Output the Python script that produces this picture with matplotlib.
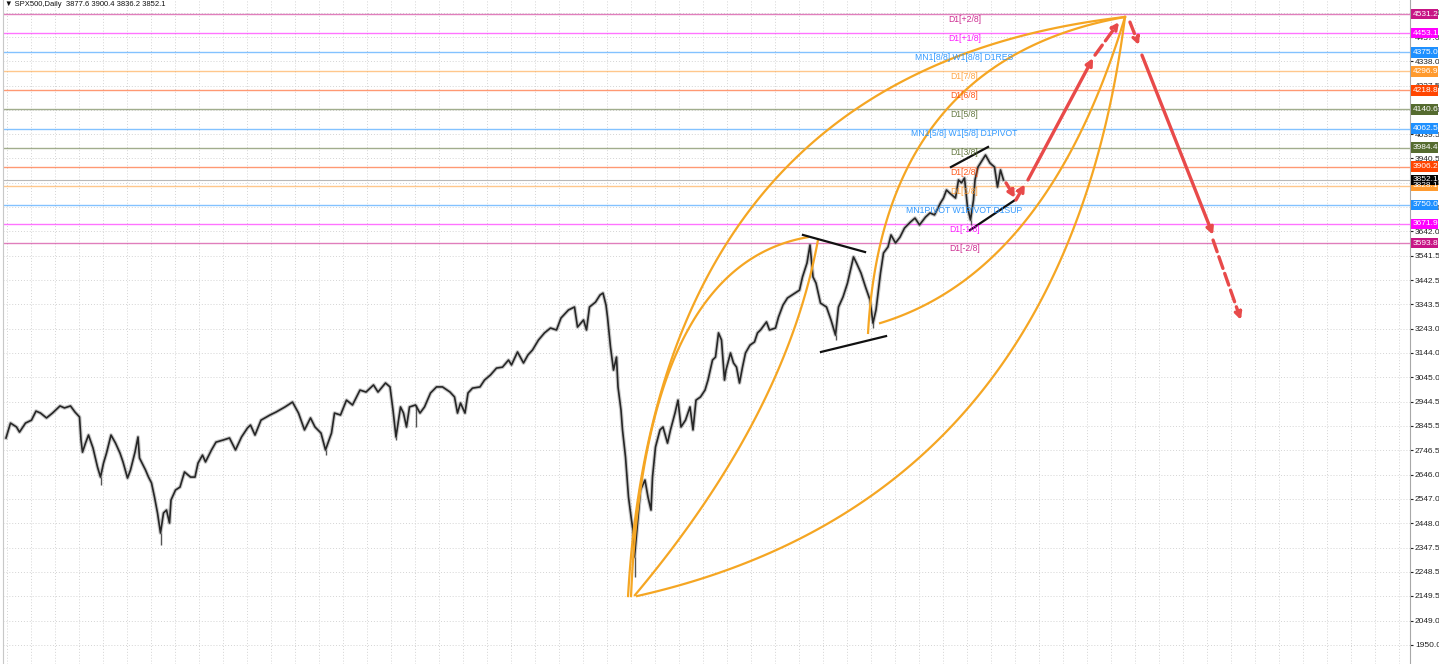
import matplotlib.pyplot as plt
import matplotlib.transforms as mtransforms
from matplotlib.patches import Rectangle
import numpy as np

plt.rcParams['font.family'] = ['Liberation Sans', 'DejaVu Sans']

# price path (bar number, close)
bar_day = [2, 5, 9, 11, 15, 19, 22, 25, 29, 33, 38, 41, 45, 48, 51, 52, 53, 55, 57, 60,
           63, 65, 67, 69, 72, 75, 78, 80, 83, 85, 88, 90, 91, 95, 97, 99, 101, 103, 105, 107,
           109, 111, 112, 115, 118, 121, 125, 128, 130, 133, 135, 139, 142, 147, 151, 155, 159, 163, 165, 168,
           172, 178, 182, 188, 193, 197, 201, 205, 208, 212, 215, 219, 221, 225, 229, 233, 238, 242, 247, 250,
           255, 258, 260, 262, 265, 267, 269, 271, 275, 278, 281, 285, 289, 293, 298, 301, 303, 305, 308, 310,
           313, 318, 321, 325, 329, 333, 337, 339, 343, 347, 350, 353, 357, 361, 365, 369, 372, 377, 381, 383,
           387, 389, 391, 395, 398, 400, 402, 403, 405, 407, 409, 410, 412, 413, 415, 417, 419, 420, 421, 423,
           425, 428, 430, 432, 433, 435, 438, 440, 443, 445, 448, 450, 452, 455, 458, 460, 462, 465, 468, 470,
           473, 475, 477, 479, 481, 482, 485, 487, 489, 491, 493, 495, 498, 501, 503, 505, 509, 511, 515, 517,
           520, 523, 528, 531, 533, 536, 538, 540, 542, 545, 549, 552, 555, 557, 560, 563, 567, 569, 572, 575,
           578, 580, 582, 585, 587, 590, 592, 595, 598, 601, 605, 608, 611, 615, 618, 621, 625, 627, 629, 631,
           635, 637, 639, 641, 643, 645, 647, 648, 650, 653, 655, 658, 661, 663, 665, 667]
bar_close = [2796, 2857, 2841, 2820, 2857, 2869, 2906, 2898, 2878, 2898, 2927, 2919, 2927, 2902, 2882, 2788, 2738, 2775, 2808, 2755,
             2677, 2636, 2693, 2734, 2808, 2775, 2734, 2698, 2632, 2665, 2738, 2800, 2714, 2665, 2636, 2612, 2554, 2489, 2407, 2489,
             2501, 2448, 2542, 2583, 2595, 2657, 2636, 2636, 2693, 2726, 2698, 2747, 2779, 2788, 2796, 2747, 2800, 2837, 2849, 2808,
             2869, 2890, 2902, 2923, 2943, 2898, 2829, 2878, 2841, 2816, 2747, 2816, 2898, 2890, 2951, 2931, 2992, 2984, 3013, 2984,
             3021, 3005, 2910, 2800, 2923, 2898, 2841, 2923, 2931, 2898, 2923, 2980, 3005, 3005, 2984, 2964, 2898, 2939, 2898, 2980,
             3000, 3005, 3033, 3054, 3082, 3086, 3115, 3095, 3148, 3103, 3136, 3156, 3197, 3226, 3246, 3238, 3287, 3320, 3332, 3250,
             3279, 3238, 3332, 3352, 3381, 3389, 3340, 3291, 3168, 3074, 3127, 3005, 2910, 2829, 2718, 2554, 2460, 2419, 2309, 2448,
             2583, 2624, 2554, 2501, 2636, 2759, 2829, 2841, 2775, 2829, 2898, 2951, 2841, 2869, 2923, 2829, 2951, 2964, 2992, 3033,
             3115, 3127, 3226, 3197, 3033, 3074, 3144, 3103, 3086, 3021, 3086, 3144, 3176, 3189, 3226, 3238, 3271, 3238, 3246, 3291,
             3340, 3369, 3389, 3401, 3455, 3512, 3586, 3455, 3430, 3348, 3332, 3279, 3217, 3332, 3373, 3430, 3537, 3512, 3471, 3414,
             3361, 3266, 3320, 3471, 3553, 3578, 3627, 3594, 3618, 3655, 3680, 3696, 3668, 3700, 3717, 3709, 3758, 3778, 3811, 3799,
             3778, 3852, 3840, 3860, 3741, 3688, 3770, 3852, 3905, 3934, 3954, 3921, 3905, 3823, 3893, 3852]

# a few long wicks
wick_day = [65, 105, 215, 262, 275, 421, 555, 580, 645]
wick_low = [2603, 2358, 2726, 2788, 2841, 2227, 3197, 3245, 3668]

# murrey math levels
level_values = [4531.2, 4453.1, 4375.0, 4296.9, 4218.8, 4140.6, 4062.5, 3984.4, 3906.2, 3828.1, 3750.0, 3671.9, 3593.8]
level_names = ["D1[+2/8]", "D1[+1/8]", "MN1[8/8] W1[8/8] D1RES", "D1[7/8]", "D1[6/8]", "D1[5/8]",
               "MN1[5/8] W1[5/8] D1PIVOT", "D1[3/8]", "D1[2/8]", "D1[1/8]", "MN1PIVOT W1PIVOT D1SUP",
               "D1[-1/8]", "D1[-2/8]"]
level_colors = ["#c71585", "#ff00ff", "#1e90ff", "#ff9a2e", "#ff4500", "#556b2f", "#1e90ff",
                "#556b2f", "#ff4500", "#ff9a2e", "#1e90ff", "#ff00ff", "#c71585"]
last_price = 3852.1

price_ticks = [1950.0, 2049.0, 2149.5, 2248.5, 2347.5, 2448.0, 2547.0, 2646.0, 2746.5, 2845.5, 2944.5,
               3045.0, 3144.0, 3243.0, 3343.5, 3442.5, 3541.5, 3642.0, 3741.0, 3840.0, 3940.5, 4039.5,
               4138.5, 4237.5, 4338.0, 4437.0, 4536.0]

# arcs: start, control, end (bar, price)
arcs = [
    [(416.7, 2149), (436.7, 4302), (748, 4519)],
    [(418.7, 2149), (428.0, 3504), (536.7, 3618)],
    [(421.3, 2153), (522.0, 2890), (543.3, 3606)],
    [(422.7, 2149), (706.7, 2542), (748, 4519)],
    [(576.7, 3226), (586.7, 4343), (748, 4519)],
    [(584.7, 3266), (696.7, 3475), (748, 4519)],
]

trend_lines = [
    [(533.3, 3627), (574.7, 3557)],
    [(545.3, 3148), (588.7, 3213)],
    [(632.0, 3905), (656.7, 3987)],
    [(644.7, 3647), (674.7, 3770)],
]

# forecast arrows: start, end, dashed?
arrows = [
    [(668.7, 3840), (674.7, 3778), True],
    [(675.3, 3770), (681.3, 3835), True],
    [(683.3, 3852), (726.7, 4351), False],
    [(728.0, 4363), (744.0, 4498), True],
    [(751.3, 4498), (757.3, 4404), True],
    [(759.3, 4363), (806.7, 3627), False],
    [(806.7, 3606), (825.3, 3279), True],
]

fig = plt.figure(figsize=(14.39, 6.64), dpi=100)
ax = fig.add_axes([3 / 1439, 0, 1407 / 1439, 1])
ax.set_xlim(0, 938)
ax.set_ylim(1871, 4588.5)

# grid
ax.set_yticks(price_ticks)
ax.set_yticklabels(["%.1f" % v for v in price_ticks])
ax.set_xticks(np.arange(2.7, 938, 16))
ax.set_xticklabels([])
ax.grid(True, color="#d4d4d4", linestyle=(0, (1, 2)), linewidth=0.7)
ax.set_axisbelow(True)
ax.yaxis.tick_right()
ax.tick_params(axis="y", labelsize=6.0, colors="#222222", length=2, pad=1.5)
ax.tick_params(axis="x", length=0)
for s in ["top", "bottom"]:
    ax.spines[s].set_visible(False)
ax.spines["right"].set_color("#a8a8a8")
ax.spines["left"].set_color("#c8c8c8")

# level lines
for v, c in zip(level_values, level_colors):
    ax.axhline(v, color=c, linewidth=1.0, alpha=0.55, zorder=2)
ax.axhline(last_price, color="#b8b8b8", linewidth=0.8, zorder=2)

# price
ax.plot(bar_day, bar_close, color="#8a8a8a", linewidth=2.8, alpha=0.45, zorder=3)
ax.plot(bar_day, bar_close, color="#262626", linewidth=1.2, zorder=4)
wick_close = [bar_close[bar_day.index(d)] for d in wick_day]
ax.vlines(wick_day, wick_low, wick_close, color="#555555", linewidth=1.0, zorder=3)

# arcs
t = np.linspace(0, 1, 120)
for p0, p1, p2 in arcs:
    xs = (1 - t) ** 2 * p0[0] + 2 * t * (1 - t) * p1[0] + t ** 2 * p2[0]
    ys = (1 - t) ** 2 * p0[1] + 2 * t * (1 - t) * p1[1] + t ** 2 * p2[1]
    ax.plot(xs, ys, color="#f5a623", linewidth=1.6, zorder=5)

for a, b in trend_lines:
    ax.plot([a[0], b[0]], [a[1], b[1]], color="#111111", linewidth=1.6, zorder=6)

for a, b, dashed in arrows:
    ax.annotate("", xy=b, xytext=a, zorder=7,
                arrowprops=dict(arrowstyle="-|>", color="#e84a4a", lw=2.4,
                                linestyle="--" if dashed else "-",
                                mutation_scale=10, shrinkA=0, shrinkB=0))

# level names
for v, n, c in zip(level_values, level_names, level_colors):
    ax.annotate(n, xy=(641, v), xytext=(0, -0.6), textcoords="offset points",
                ha="center", va="top", fontsize=6.2, color=c, alpha=0.9, zorder=8)

# price boxes on the right axis
trans = mtransforms.blended_transform_factory(ax.transAxes, ax.transData)
box_values = level_values + [last_price]
box_colors = level_colors + ["black"]
for v, c in zip(box_values, box_colors):
    ax.add_patch(Rectangle((1.0006, v - 22), 0.0196, 44, transform=trans, facecolor=c,
                           edgecolor="none", clip_on=False, zorder=10))
    ax.text(1.0020, v, "%.1f" % v, transform=trans, ha="left", va="center", fontsize=6.0,
            color="white", clip_on=False, zorder=11)

fig.text(5 / 1439, 1 - 5 / 664, "\u25bc SPX500,Daily  3877.6 3900.4 3836.2 3852.1",
         fontsize=5.5, color="#111111", va="center", ha="left")

fig.savefig("out.png", dpi=100)
